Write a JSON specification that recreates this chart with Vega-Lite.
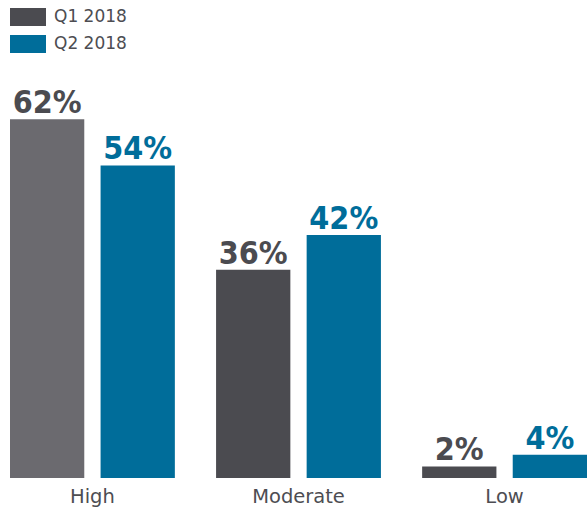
{
  "$schema": "https://vega.github.io/schema/vega-lite/v6.json",
  "width": 577,
  "height": 463,
  "autosize": "none",
  "padding": {"top": 15, "left": 10, "right": 0, "bottom": 34},
  "background": "white",
  "config": {"view": {"stroke": null}, "font": "DejaVu Sans"},
  "data": {
    "values": [
      {"level": "High", "quarter": "Q1 2018", "value": 0.62},
      {"level": "High", "quarter": "Q2 2018", "value": 0.54},
      {"level": "Moderate", "quarter": "Q1 2018", "value": 0.36},
      {"level": "Moderate", "quarter": "Q2 2018", "value": 0.42},
      {"level": "Low", "quarter": "Q1 2018", "value": 0.02},
      {"level": "Low", "quarter": "Q2 2018", "value": 0.04}
    ]
  },
  "encoding": {
    "x": {
      "field": "level", "type": "nominal", "sort": ["High", "Moderate", "Low"],
      "scale": {"paddingInner": 0.2, "paddingOuter": 0},
      "axis": {"title": null, "domain": false, "ticks": false, "labelAngle": 0,
               "labelFontSize": 19.5, "labelColor": "#4d4d52", "labelPadding": 9, "labelFont": "DejaVu Sans"}
    },
    "xOffset": {"field": "quarter", "type": "nominal", "scale": {"paddingInner": 0.18, "paddingOuter": 0}},
    "y": {"field": "value", "type": "quantitative", "scale": {"domain": [0, 0.8]}, "axis": null}
  },
  "layer": [
    {
      "mark": {"type": "bar"},
      "encoding": {
        "color": {
          "condition": {"test": "datum.level === 'High' && datum.quarter === 'Q1 2018'", "value": "#6b6a6f"},
          "field": "quarter", "type": "nominal",
          "scale": {"domain": ["Q1 2018", "Q2 2018"], "range": ["#4b4b50", "#006d9a"]},
          "legend": {
            "title": null, "orient": "none", "legendX": 0, "legendY": -16, "padding": 0,
            "symbolType": "M-1,-0.5H1V0.5H-1Z", "symbolSize": 1296, "symbolStrokeWidth": 0,
            "symbolOpacity": 1,
            "labelFontSize": 17, "labelColor": "#4d4d52", "labelFont": "DejaVu Sans",
            "rowPadding": -7.5, "labelOffset": 8
          }
        }
      }
    },
    {
      "mark": {"type": "text", "baseline": "alphabetic", "dy": -6, "fontSize": 32, "fontWeight": "bold", "font": "DejaVu Sans Condensed"},
      "encoding": {
        "text": {"field": "value", "type": "quantitative", "format": ".0%"},
        "color": {
          "field": "quarter", "type": "nominal",
          "scale": {"domain": ["Q1 2018", "Q2 2018"], "range": ["#4b4b50", "#006d9a"]},
          "legend": null
        }
      }
    }
  ]
}
